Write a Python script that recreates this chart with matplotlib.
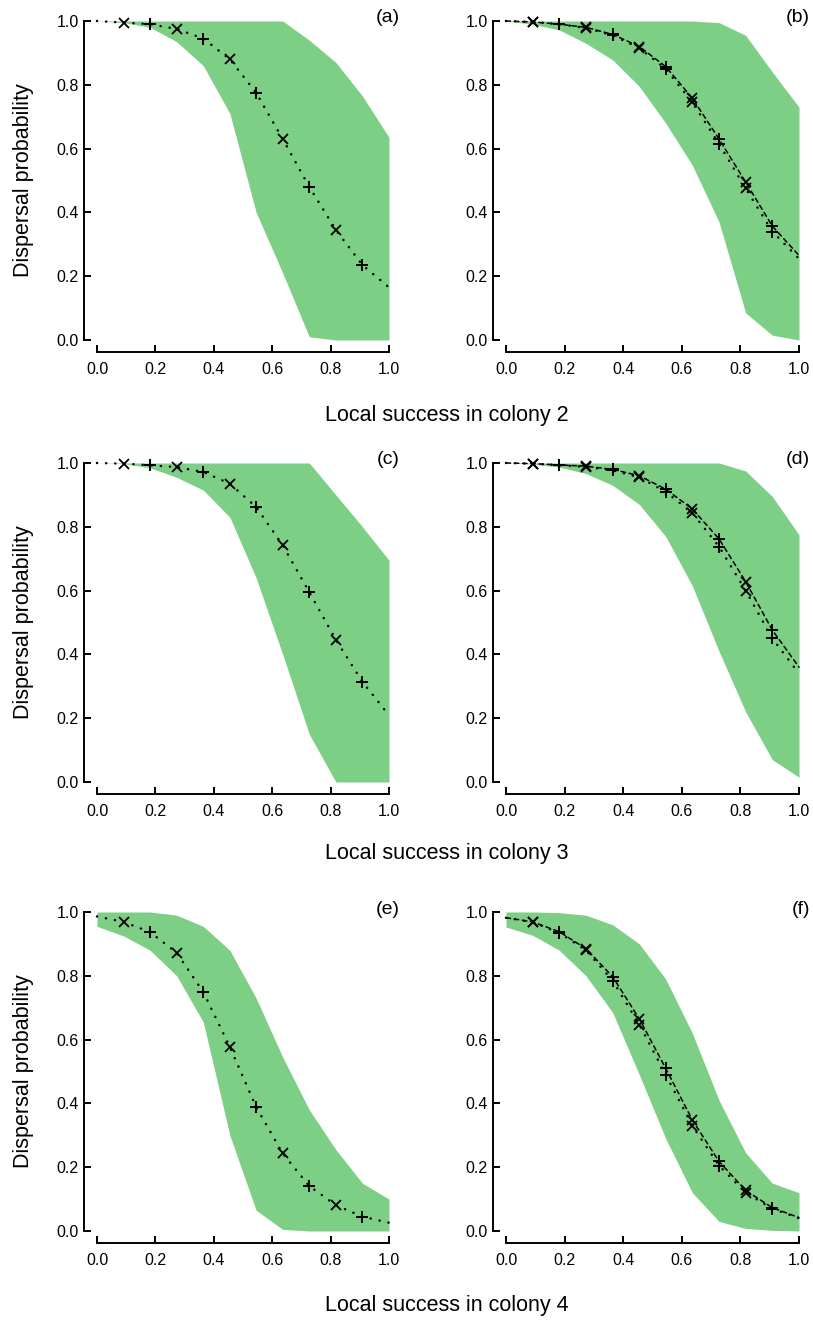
import matplotlib
matplotlib.use("Agg")
import matplotlib.pyplot as plt

plt.rcParams['font.family'] = ['Liberation Sans', 'DejaVu Sans']

# ---------------- data ----------------
x_vals = [0.0, 0.091, 0.182, 0.273, 0.364, 0.455, 0.545, 0.636, 0.727, 0.818, 0.909, 1.0]
panel_labels = ["(a)", "(b)", "(c)", "(d)", "(e)", "(f)"]
xlabels = ["Local success in colony 2", "Local success in colony 3", "Local success in colony 4"]
ylabel = "Dispersal probability"
tick_vals = [0.0, 0.2, 0.4, 0.6, 0.8, 1.0]
tick_labels = ["0.0", "0.2", "0.4", "0.6", "0.8", "1.0"]

# panel (a)
a_line = [1.0, 0.995, 0.99, 0.975, 0.945, 0.88, 0.775, 0.63, 0.48, 0.345, 0.235, 0.165]
a_upper = [1.0, 1.0, 1.0, 1.0, 1.0, 1.0, 1.0, 1.0, 0.94, 0.87, 0.765, 0.635]
a_lower = [1.0, 0.995, 0.98, 0.935, 0.86, 0.71, 0.40, 0.21, 0.01, 0.0, 0.0, 0.0]

# panel (b)
b_line1 = [1.0, 0.997, 0.99, 0.978, 0.955, 0.915, 0.85, 0.745, 0.615, 0.475, 0.34, 0.255]
b_line2 = [1.0, 0.997, 0.99, 0.98, 0.958, 0.92, 0.857, 0.758, 0.63, 0.495, 0.357, 0.265]
b_upper = [1.0, 1.0, 1.0, 1.0, 1.0, 1.0, 1.0, 1.0, 0.995, 0.955, 0.84, 0.73]
b_lower = [1.0, 0.99, 0.972, 0.93, 0.878, 0.795, 0.68, 0.548, 0.37, 0.085, 0.015, 0.0]

# panel (c)
c_line = [1.0, 0.998, 0.993, 0.987, 0.972, 0.935, 0.862, 0.742, 0.595, 0.446, 0.314, 0.209]
c_upper = [1.0, 1.0, 1.0, 1.0, 1.0, 1.0, 1.0, 1.0, 1.0, 0.90, 0.80, 0.695]
c_lower = [1.0, 0.998, 0.985, 0.955, 0.915, 0.83, 0.64, 0.40, 0.15, 0.0, 0.0, 0.0]

# panel (d)
d_line1 = [1.0, 0.998, 0.993, 0.988, 0.977, 0.955, 0.91, 0.843, 0.738, 0.60, 0.45, 0.34]
d_line2 = [1.0, 0.998, 0.994, 0.99, 0.98, 0.96, 0.918, 0.856, 0.762, 0.628, 0.476, 0.36]
d_upper = [1.0, 1.0, 1.0, 1.0, 1.0, 1.0, 1.0, 1.0, 1.0, 0.975, 0.895, 0.775]
d_lower = [1.0, 0.997, 0.987, 0.967, 0.93, 0.87, 0.77, 0.615, 0.41, 0.22, 0.07, 0.015]

# panel (e)
e_line = [0.986, 0.969, 0.937, 0.872, 0.749, 0.577, 0.389, 0.243, 0.141, 0.081, 0.045, 0.026]
e_upper = [1.0, 1.0, 1.0, 0.99, 0.955, 0.88, 0.73, 0.545, 0.38, 0.255, 0.15, 0.10]
e_lower = [0.955, 0.925, 0.88, 0.80, 0.655, 0.30, 0.065, 0.005, 0.0, 0.0, 0.0, 0.0]

# panel (f)
f_line1 = [0.982, 0.968, 0.935, 0.88, 0.785, 0.647, 0.49, 0.33, 0.205, 0.12, 0.07, 0.04]
f_line2 = [0.982, 0.969, 0.938, 0.885, 0.797, 0.665, 0.51, 0.348, 0.218, 0.127, 0.073, 0.042]
f_upper = [1.0, 1.0, 0.998, 0.99, 0.96, 0.90, 0.79, 0.62, 0.41, 0.245, 0.15, 0.12]
f_lower = [0.953, 0.927, 0.88, 0.80, 0.685, 0.49, 0.29, 0.12, 0.03, 0.008, 0.002, 0.0]

panels = [
    (a_upper, a_lower, [a_line]),
    (b_upper, b_lower, [b_line1, b_line2]),
    (c_upper, c_lower, [c_line]),
    (d_upper, d_lower, [d_line1, d_line2]),
    (e_upper, e_lower, [e_line]),
    (f_upper, f_lower, [f_line1, f_line2]),
]

# ---------------- layout ----------------
W, H = 813, 1322
fig = plt.figure(figsize=(W / 100, H / 100), dpi=100)
green = '#7ecf86'

col_left = [97, 506]
col_w = [292, 293]
row_top = [21, 463, 912]
ax_h = 319

line_styles = [(0, (0.05, 3.6)), (0, (3.0, 2.4))]
line_widths = [1.8, 1.1]

for i, (up, lo, lines) in enumerate(panels):
    r, c = divmod(i, 2)
    left = col_left[c] / W
    bottom = 1 - (row_top[r] + ax_h) / H
    ax = fig.add_axes([left, bottom, col_w[c] / W, ax_h / H])
    ax.fill_between(x_vals, lo, up, color=green, linewidth=0, zorder=1)
    for j, yv in enumerate(lines):
        ax.plot(x_vals, yv, color='black', lw=line_widths[j],
                linestyle=line_styles[j], dash_capstyle='round',
                clip_on=False, zorder=3)
        xs_x = [x_vals[k] for k in range(1, 11, 2)]
        ys_x = [yv[k] for k in range(1, 11, 2)]
        xs_p = [x_vals[k] for k in range(2, 11, 2)]
        ys_p = [yv[k] for k in range(2, 11, 2)]
        ax.plot(xs_x, ys_x, linestyle='none', marker='x', ms=7, mew=1.3,
                color='black', clip_on=False, zorder=4)
        ax.plot(xs_p, ys_p, linestyle='none', marker='+', ms=9, mew=1.4,
                color='black', clip_on=False, zorder=4)
    ax.set_xlim(0, 1)
    ax.set_ylim(0, 1)
    for s in ['top', 'right']:
        ax.spines[s].set_visible(False)
    ax.spines['left'].set_position(('outward', 9.7))
    ax.spines['bottom'].set_position(('outward', 8.6))
    ax.spines['left'].set_bounds(0, 1)
    ax.spines['bottom'].set_bounds(0, 1)
    for s in ['left', 'bottom']:
        ax.spines[s].set_linewidth(1.4)
    ax.set_xticks(tick_vals)
    ax.set_xticklabels(tick_labels)
    ax.set_yticks(tick_vals)
    ax.set_yticklabels(tick_labels)
    ax.tick_params(axis='both', direction='in', length=5, width=1.4,
                   labelsize=11.5, colors='black')
    ax.tick_params(axis='x', pad=7)
    ax.tick_params(axis='y', pad=3.5)
    ax.patch.set_alpha(0)
    ax.text(1.0 + 11 / col_w[c], 1.0 + 3 / ax_h, panel_labels[i],
            transform=ax.transAxes, ha='right', va='center', fontsize=14)
    if c == 0:
        yc = 1 - (row_top[r] + ax_h / 2) / H
        fig.text(23 / W, yc, ylabel, rotation=90, ha='center', va='center',
                 fontsize=15.5)

xlabel_y = [415, 853, 1305]
for r in range(3):
    fig.text(447 / W, 1 - xlabel_y[r] / H, xlabels[r], ha='center',
             va='center', fontsize=15.5)

fig.savefig('out.png', dpi=100, facecolor='white')
